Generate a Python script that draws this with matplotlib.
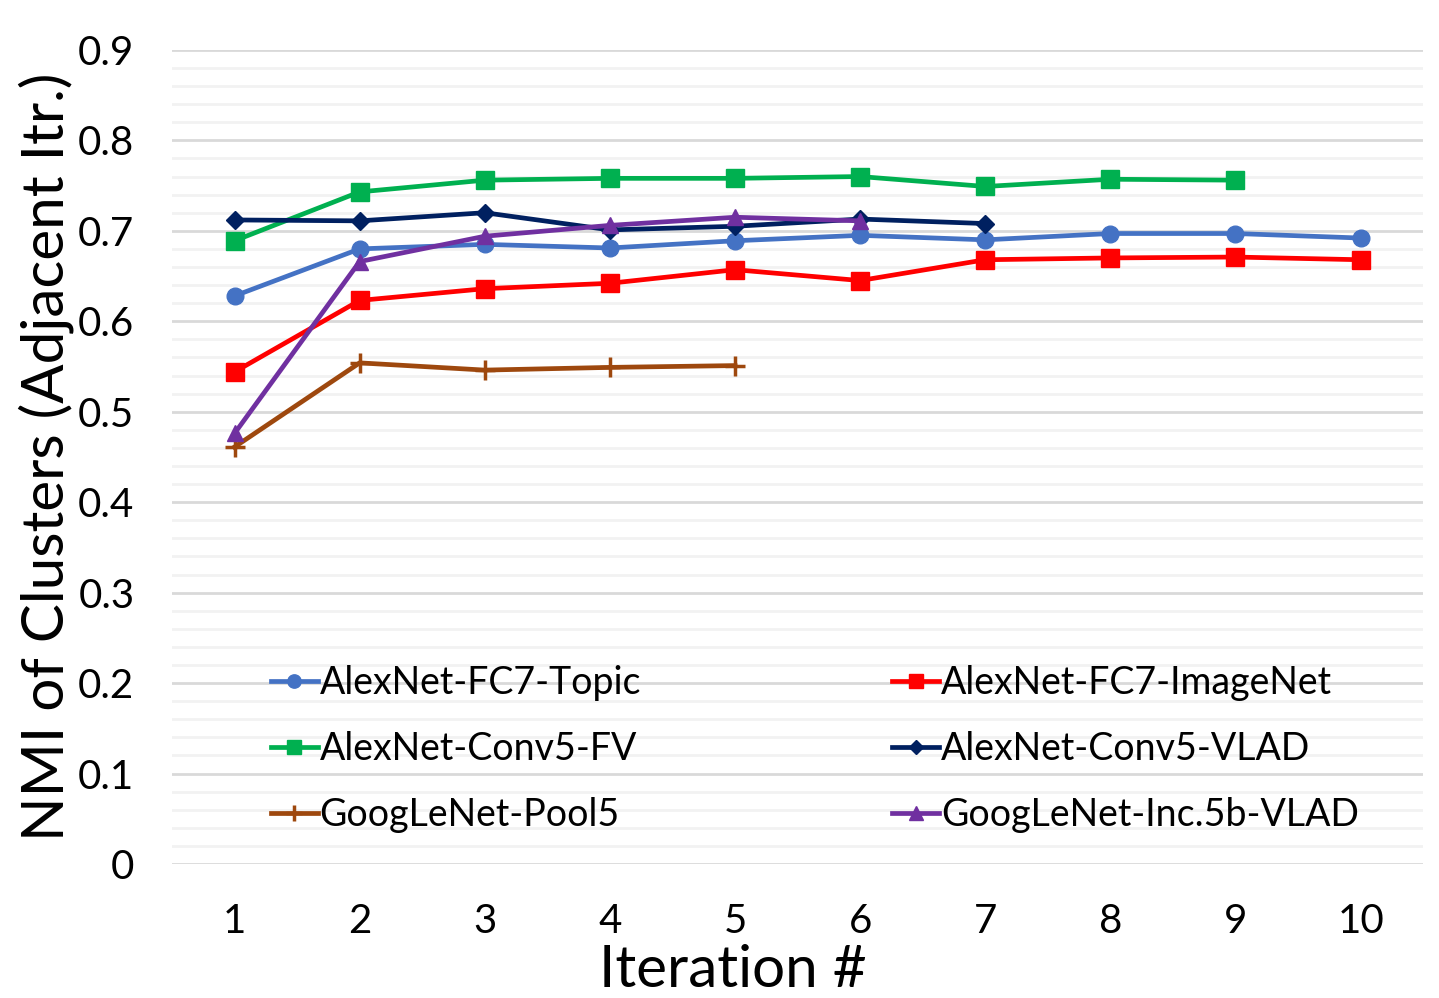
import numpy as np
import matplotlib.pyplot as plt
from matplotlib.ticker import MultipleLocator, FuncFormatter

plt.rcParams['font.family'] = ['Lato', 'DejaVu Sans']

# Data
iterations = [1, 2, 3, 4, 5, 6, 7, 8, 9, 10]
fc7_topic = [0.628, 0.680, 0.685, 0.681, 0.689, 0.695, 0.690, 0.697, 0.697, 0.692]
fc7_imagenet = [0.544, 0.623, 0.636, 0.642, 0.657, 0.645, 0.668, 0.670, 0.671, 0.668]
conv5_fv = [0.689, 0.743, 0.756, 0.758, 0.758, 0.760, 0.749, 0.757, 0.756]
conv5_vlad = [0.712, 0.711, 0.720, 0.701, 0.705, 0.713, 0.708]
pool5 = [0.461, 0.554, 0.546, 0.549, 0.551]
inc5b_vlad = [0.476, 0.666, 0.694, 0.706, 0.715, 0.711]

series = [
    ('AlexNet-FC7-Topic', fc7_topic, '#4472C4', 'o', 12),
    ('AlexNet-FC7-ImageNet', fc7_imagenet, '#FF0000', 's', 13),
    ('AlexNet-Conv5-FV', conv5_fv, '#00B050', 's', 13),
    ('AlexNet-Conv5-VLAD', conv5_vlad, '#002060', 'D', 9),
    ('GoogLeNet-Pool5', pool5, '#9E480E', '+', 14),
    ('GoogLeNet-Inc.5b-VLAD', inc5b_vlad, '#7030A0', '^', 12),
]

fig = plt.figure(figsize=(14.39, 9.98), dpi=100)
ax = fig.add_axes([0.1195, 0.1343, 0.8695, 0.8157])

handles = {}
for name, vals, col, mk, ms in series:
    x = iterations[:len(vals)]
    h, = ax.plot(x, vals, color=col, marker=mk, markersize=ms, lw=3.4,
                 markeredgewidth=2.5 if mk == '+' else 1, label=name, zorder=3)
    handles[name] = h

ax.set_xlim(0.5, 10.5)
ax.set_ylim(0, 0.9)
ax.set_xticks(iterations)
ax.yaxis.set_major_locator(MultipleLocator(0.1))
ax.yaxis.set_minor_locator(MultipleLocator(0.02))
ax.yaxis.set_major_formatter(FuncFormatter(lambda v, p: '0' if abs(v) < 1e-9 else f'{v:.1f}'))
ax.grid(which='major', axis='y', color='#D9D9D9', lw=2, zorder=0)
ax.grid(which='minor', axis='y', color='#F2F2F2', lw=2, zorder=0)
for s in ax.spines.values():
    s.set_visible(False)
ax.tick_params(which='both', length=0)
ax.tick_params(axis='y', labelsize=29, pad=27)
ax.tick_params(axis='x', labelsize=29, pad=28)

ax.set_xlabel('Iteration #', fontsize=42)
ax.xaxis.set_label_coords(0.448, -0.098)
ax.set_ylabel('NMI of Clusters (Adjacent Itr.)', fontsize=42)
ax.yaxis.set_label_coords(-0.078, 0.5)

order = ['AlexNet-FC7-Topic', 'AlexNet-Conv5-FV', 'GoogLeNet-Pool5',
         'AlexNet-FC7-ImageNet', 'AlexNet-Conv5-VLAD', 'GoogLeNet-Inc.5b-VLAD']
ax.legend([handles[n] for n in order], order, ncol=2, frameon=False,
          loc='lower left', bbox_to_anchor=(0.052, -0.003), fontsize=27,
          handlelength=1.25, handletextpad=0.05, columnspacing=6.7,
          labelspacing=0.8, markerscale=0.8)

fig.savefig('out.png', dpi=100)
